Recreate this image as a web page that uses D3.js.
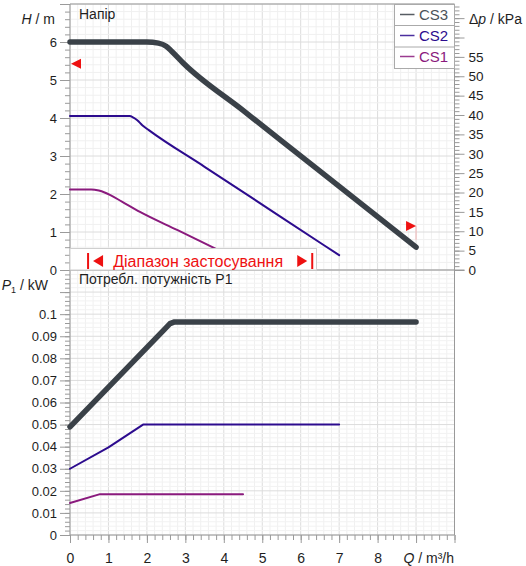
<!DOCTYPE html>
<html>
<head>
<meta charset="utf-8">
<script src="https://cdn.jsdelivr.net/npm/d3@7"></script>
<style>
  body { margin: 0; background: #fff; }
  svg { display: block; font-family: "Liberation Sans", Arial, sans-serif; }
</style>
</head>
<body>
<svg id="canvas"></svg>
<script>
// pump curves, Q in m³/h
let seriesNames = ['CS3', 'CS2', 'CS1']
let seriesColors = ['#3a4148', '#2c0b8e', '#8a1a7d']
let seriesWidths = [5.5, 2, 2]

let cs3Q = [0, 2.0, 2.3, 2.5, 2.65, 2.95, 4.5, 6.5, 9]
let cs3H = [6.0, 6.0, 5.97, 5.89, 5.75, 5.44, 4.2, 2.6, 0.6]
let cs2Q = [0, 1.55, 1.65, 1.75, 1.88, 2.05, 3.5, 5.5, 7]
let cs2H = [4.05, 4.05, 4.01, 3.94, 3.81, 3.68, 2.716, 1.387, 0.39]
let cs1Q = [0, 0.55, 0.75, 0.9, 1.05, 1.35, 1.82, 2.8, 3.81, 4.5]
let cs1H = [2.12, 2.12, 2.09, 2.04, 1.97, 1.8, 1.53, 1.047, 0.55, 0.21]

let p3Q = [0, 2.45, 2.6, 2.72, 9]
let p3P = [0.049, 0.093, 0.0957, 0.0965, 0.0965]
let p2Q = [0, 1.0, 1.9, 7]
let p2P = [0.030, 0.0397, 0.050, 0.050]
let p1Q = [0, 0.78, 4.5]
let p1P = [0.0145, 0.0185, 0.0185]

let xLabels = [0, 1, 2, 3, 4, 5, 6, 7, 8]
let hLabels = [0, 1, 2, 3, 4, 5, 6]
let kpaLabels = [0, 5, 10, 15, 20, 25, 30, 35, 40, 45, 50, 55]
let pLabels = [0, 0.01, 0.02, 0.03, 0.04, 0.05, 0.06, 0.07, 0.08, 0.09, 0.1]

// application range markers (Q, H)
let markerLeft = [0, 5.43]
let markerRight = [9, 1.16]
let rangeBars = [0.47, 6.3]

let width = 526
let height = 566
let plotLeft = 70
let plotRight = 454.5
let plotTop = 4
let plotMid = 270
let plotBottom = 535

let axisColor = '#9a9a9a'
let textColor = '#1e1e1e'

let canvas = d3.select('#canvas').attr('width', width).attr('height', height)

let xScale = d3.scaleLinear().domain([0, 10]).range([plotLeft, plotRight])
let hScale = d3.scaleLinear().domain([0, 7]).range([plotMid, plotTop])
let kpaScale = d3.scaleLinear().domain([0, 7 * 9.80665]).range([plotMid, plotTop])
let pScale = d3.scaleLinear().domain([0, 0.12]).range([plotBottom, plotMid])

let steps = (n, d) => d3.range(0, n + 1).map(i => +(i * d).toFixed(4))

// grid
let drawGrid = () => {
    let g = canvas.append('g')
    let xs = steps(50, 0.2)
    g.selectAll('.vgrid').data(xs).enter().append('line')
        .attr('x1', d => xScale(d)).attr('x2', d => xScale(d))
        .attr('y1', plotTop).attr('y2', plotBottom)
        .attr('stroke', (d, i) => i % 5 == 0 ? '#dcdcdc' : '#f0f0f0')
    let hs = steps(35, 0.2)
    g.selectAll('.hgrid').data(hs).enter().append('line')
        .attr('x1', plotLeft).attr('x2', plotRight)
        .attr('y1', d => hScale(d)).attr('y2', d => hScale(d))
        .attr('stroke', (d, i) => i % 5 == 0 ? '#dcdcdc' : '#f0f0f0')
    let ps = steps(60, 0.002)
    g.selectAll('.pgrid').data(ps).enter().append('line')
        .attr('x1', plotLeft).attr('x2', plotRight)
        .attr('y1', d => pScale(d)).attr('y2', d => pScale(d))
        .attr('stroke', (d, i) => i % 5 == 0 ? '#dcdcdc' : '#f2f2f2')
}

let styleAxis = (g, size) => {
    g.select('.domain').remove()
    g.selectAll('line').attr('stroke', axisColor)
    g.selectAll('text').attr('fill', textColor).style('font-size', size)
}

let drawAxes = () => {
    // left H axis
    let hMinor = canvas.append('g').attr('transform', 'translate(' + plotLeft + ',0)')
        .call(d3.axisLeft(hScale).tickValues(steps(35, 0.2)).tickSize(5).tickFormat(''))
    styleAxis(hMinor, '13px')
    let hMajor = canvas.append('g').attr('transform', 'translate(' + plotLeft + ',0)')
        .call(d3.axisLeft(hScale).tickValues(steps(7, 1)).tickSize(10).tickPadding(3)
            .tickFormat(d => hLabels.includes(d) ? d : ''))
    styleAxis(hMajor, '13px')

    // right kPa axis
    let kMinor = canvas.append('g').attr('transform', 'translate(' + plotRight + ',0)')
        .call(d3.axisRight(kpaScale).tickValues(steps(68, 1)).tickSize(5).tickFormat(''))
    styleAxis(kMinor, '13px')
    let kMajor = canvas.append('g').attr('transform', 'translate(' + plotRight + ',0)')
        .call(d3.axisRight(kpaScale).tickValues(steps(13, 5)).tickSize(10).tickPadding(4)
            .tickFormat(d => kpaLabels.includes(d) ? d : ''))
    styleAxis(kMajor, '13.5px')

    // left P axis
    let pMinor = canvas.append('g').attr('transform', 'translate(' + plotLeft + ',0)')
        .call(d3.axisLeft(pScale).tickValues(steps(60, 0.002)).tickSize(5).tickFormat(''))
    styleAxis(pMinor, '13px')
    let pMajor = canvas.append('g').attr('transform', 'translate(' + plotLeft + ',0)')
        .call(d3.axisLeft(pScale).tickValues(steps(12, 0.01)).tickSize(10).tickPadding(3)
            .tickFormat(d => pLabels.includes(d) ? String(d) : ''))
    styleAxis(pMajor, '13px')

    // bottom Q axis
    let qMinor = canvas.append('g').attr('transform', 'translate(0,' + plotBottom + ')')
        .call(d3.axisBottom(xScale).tickValues(steps(50, 0.2)).tickSize(5).tickFormat(''))
    styleAxis(qMinor, '14px')
    let qMajor = canvas.append('g').attr('transform', 'translate(0,' + plotBottom + ')')
        .call(d3.axisBottom(xScale).tickValues(steps(10, 1)).tickSize(8)
            .tickFormat(d => xLabels.includes(d) ? d : ''))
    styleAxis(qMajor, '14px')
    qMajor.selectAll('text').attr('y', 28).attr('dy', 0)

    // frame lines
    let frame = canvas.append('g').attr('stroke', axisColor).attr('fill', 'none')
    frame.append('line').attr('x1', plotLeft).attr('x2', plotLeft).attr('y1', plotTop).attr('y2', plotBottom)
    frame.append('line').attr('x1', plotRight).attr('x2', plotRight).attr('y1', plotTop).attr('y2', plotBottom)
    frame.append('line').attr('x1', plotLeft).attr('x2', plotRight).attr('y1', plotTop).attr('y2', plotTop)
    frame.append('line').attr('x1', plotLeft).attr('x2', plotRight + 10).attr('y1', plotMid).attr('y2', plotMid)
    frame.append('line').attr('x1', plotLeft).attr('x2', plotRight).attr('y1', plotBottom).attr('y2', plotBottom)
}

let drawCurves = () => {
    let hLine = d3.line().x(d => xScale(d[0])).y(d => hScale(d[1])).curve(d3.curveMonotoneX)
    let pLine = d3.line().x(d => xScale(d[0])).y(d => pScale(d[1]))
    let hData = [d3.zip(cs3Q, cs3H), d3.zip(cs2Q, cs2H), d3.zip(cs1Q, cs1H)]
    let pData = [d3.zip(p3Q, p3P), d3.zip(p2Q, p2P), d3.zip(p1Q, p1P)]

    canvas.append('g').selectAll('path').data(hData).enter().append('path')
        .attr('d', hLine)
        .attr('fill', 'none')
        .attr('stroke', (d, i) => seriesColors[i])
        .attr('stroke-width', (d, i) => seriesWidths[i])
        .attr('stroke-linecap', 'round')
        .attr('stroke-linejoin', 'round')

    canvas.append('g').selectAll('path').data(pData).enter().append('path')
        .attr('d', pLine)
        .attr('fill', 'none')
        .attr('stroke', (d, i) => seriesColors[i])
        .attr('stroke-width', (d, i) => seriesWidths[i])
        .attr('stroke-linecap', 'round')
        .attr('stroke-linejoin', 'round')
}

let drawMarkers = () => {
    let red = '#ee1111'
    let lx = xScale(markerLeft[0]) + 1, ly = hScale(markerLeft[1])
    canvas.append('path')
        .attr('d', 'M' + lx + ',' + ly + 'l10,-5v10z')
        .attr('fill', red)
    let rx = xScale(markerRight[0]), ry = hScale(markerRight[1])
    canvas.append('line')
        .attr('x1', rx).attr('x2', rx).attr('y1', ry).attr('y2', ry + 14)
        .attr('stroke', '#f4b8b8').attr('stroke-width', 1)
    canvas.append('path')
        .attr('d', 'M' + rx + ',' + ry + 'l-10,-5v10z')
        .attr('fill', red)

    // application range box
    let box = canvas.append('g')
    let bx1 = plotLeft, bx2 = 316.5, by1 = 248.5
    box.append('rect')
        .attr('x', bx1).attr('y', by1).attr('width', bx2 - bx1).attr('height', plotMid - by1)
        .attr('fill', '#fff').attr('stroke', '#cfcfcf')
    rangeBars.forEach(q => {
        box.append('line')
            .attr('x1', xScale(q)).attr('x2', xScale(q)).attr('y1', 253).attr('y2', 269)
            .attr('stroke', red).attr('stroke-width', 2)
    })
    let x0 = xScale(rangeBars[0]), x1 = xScale(rangeBars[1])
    box.append('path').attr('d', 'M' + (x0 + 5) + ',261l10,-6v12z').attr('fill', red)
    box.append('path').attr('d', 'M' + (x1 - 15) + ',255l10,6l-10,6z').attr('fill', red)
    box.append('text')
        .attr('x', (x0 + x1) / 2 - 2).attr('y', 266.5)
        .attr('text-anchor', 'middle')
        .attr('fill', red)
        .style('font-size', '16px')
        .text('Діапазон застосування')
}

let drawLegend = () => {
    let lg = canvas.append('g')
    lg.append('rect')
        .attr('x', 394.5).attr('y', 4.5).attr('width', plotRight - 394.5).attr('height', 64)
        .attr('fill', '#fff').attr('stroke', '#aaaaaa')
    lg.append('line').attr('x1', 394.5).attr('x2', plotRight).attr('y1', 25.5).attr('y2', 25.5).attr('stroke', '#aaaaaa')
    lg.append('line').attr('x1', 394.5).attr('x2', plotRight).attr('y1', 47).attr('y2', 47).attr('stroke', '#aaaaaa')
    let textColors = ['#4b5359', seriesColors[1], seriesColors[2]]
    seriesNames.forEach((name, i) => {
        let cy = 14.5 + i * 21
        lg.append('line')
            .attr('x1', 400).attr('x2', 414.5).attr('y1', cy).attr('y2', cy)
            .attr('stroke', seriesColors[i]).attr('stroke-width', 1.5).attr('opacity', 0.85)
        lg.append('text')
            .attr('x', 419).attr('y', cy + 5.5)
            .attr('fill', textColors[i])
            .style('font-size', '15px')
            .text(name)
    })
}

let drawLabels = () => {
    let t = canvas.append('g').attr('fill', textColor).style('font-size', '14px')
    t.append('text').attr('x', 79).attr('y', 18.5).text('Напір')
    t.append('text').attr('x', 79).attr('y', 283.5).text('Потребл. потужність P1')

    let hl = t.append('text').attr('x', 55).attr('y', 24).attr('text-anchor', 'end')
    hl.append('tspan').attr('font-style', 'italic').text('H')
    hl.append('tspan').text(' / m')

    let pl = t.append('text').attr('x', 48).attr('y', 290).attr('text-anchor', 'end')
    pl.append('tspan').attr('font-style', 'italic').text('P')
    pl.append('tspan').style('font-size', '9px').attr('dy', 3).text('1')
    pl.append('tspan').attr('dy', -3).text(' / kW')

    let kl = t.append('text').attr('x', 469).attr('y', 24)
    kl.append('tspan').text('Δ')
    kl.append('tspan').attr('font-style', 'italic').text('p')
    kl.append('tspan').text(' / kPa')

    let ql = t.append('text').attr('x', 454).attr('y', 563).attr('text-anchor', 'end')
    ql.append('tspan').attr('font-style', 'italic').text('Q')
    ql.append('tspan').text(' / m³/h')
}

drawGrid()
drawAxes()
drawCurves()
drawMarkers()
drawLegend()
drawLabels()
</script>
</body>
</html>
